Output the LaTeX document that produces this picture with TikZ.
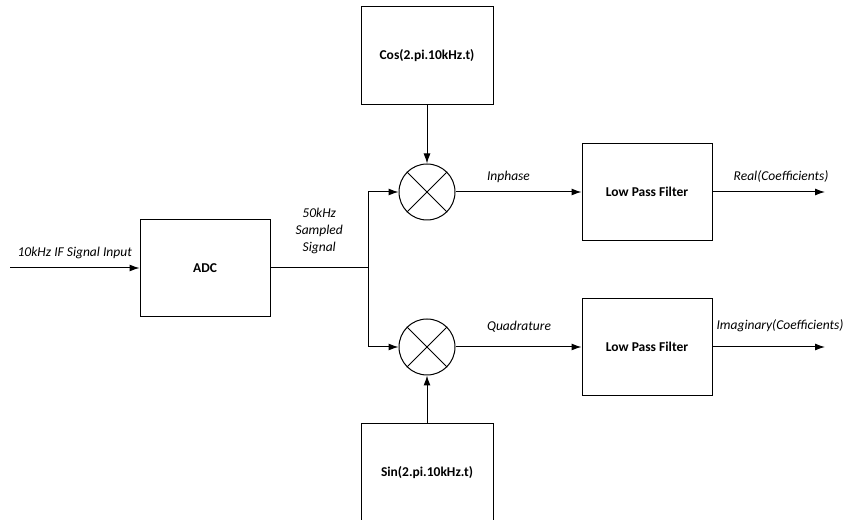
\documentclass[tikz,border=0pt]{standalone}
\usepackage{fontspec}
\setmainfont{Carlito}
\usetikzlibrary{positioning, arrows.meta}

\begin{document}
\begin{tikzpicture}[x=1pt,y=1pt,line width=1pt,on grid,
  block/.style={draw, minimum width=130pt, minimum height=97pt, font=\bfseries\fontsize{13.5}{16}\selectfont},
  mixer/.style={draw, circle, minimum size=56pt, inner sep=0pt},
  lbl/.style={font=\itshape\fontsize{13.5}{17}\selectfont},
  >={Latex[length=10pt,width=7pt]}]
  \clip (0,0) rectangle (853,519);
  \node[block] (adc) at (205,251) {ADC};
  \node[mixer] (mixi) [above right=76pt and 222pt of adc] {};
  \node[mixer] (mixq) [below right=79pt and 222pt of adc] {};
  \node[block, minimum width=132pt, minimum height=98pt] (cos) [above=136pt of mixi] {Cos(2.pi.10kHz.t)};
  \node[block, minimum width=132pt, minimum height=98pt] (sin) [below=126pt of mixq] {Sin(2.pi.10kHz.t)};
  \node[block] (lpfi) [right=220pt of mixi] {Low Pass Filter};
  \node[block] (lpfq) [right=220pt of mixq] {Low Pass Filter};
  \coordinate (in) at (10,251);
  \coordinate (split) at (368,251);
  \coordinate (reout) at (825,327);
  \coordinate (imout) at (825,172);
  % crosses in the mixers
  \foreach \m in {mixi,mixq}
    \draw (\m.45) -- (\m.225) (\m.135) -- (\m.315);
  % signal path
  \draw[->] (in) -- node[lbl, above=5.5pt] {10kHz IF Signal Input} (adc);
  \draw (adc) -- node[lbl, above=10.5pt, align=center] {50kHz\\Sampled\\Signal} (split);
  \draw[->] (split) |- (mixi);
  \draw[->] (split) |- (mixq);
  \draw[->] (cos) -- (mixi);
  \draw[->] (sin) -- (mixq);
  \draw[->] (mixi) -- node[lbl, pos=0.22, anchor=south west, yshift=5.5pt] {Inphase} (lpfi);
  \draw[->] (mixq) -- node[lbl, pos=0.22, anchor=south west, yshift=10.5pt] {Quadrature} (lpfq);
  \draw[->] (lpfi) -- node[lbl, pos=0.61, above=5.5pt] {Real(Coefficients)} (reout);
  \draw[->] (lpfq) -- node[lbl, pos=0.60, above=11.5pt] {Imaginary(Coefficients)} (imout);
\end{tikzpicture}
\end{document}
